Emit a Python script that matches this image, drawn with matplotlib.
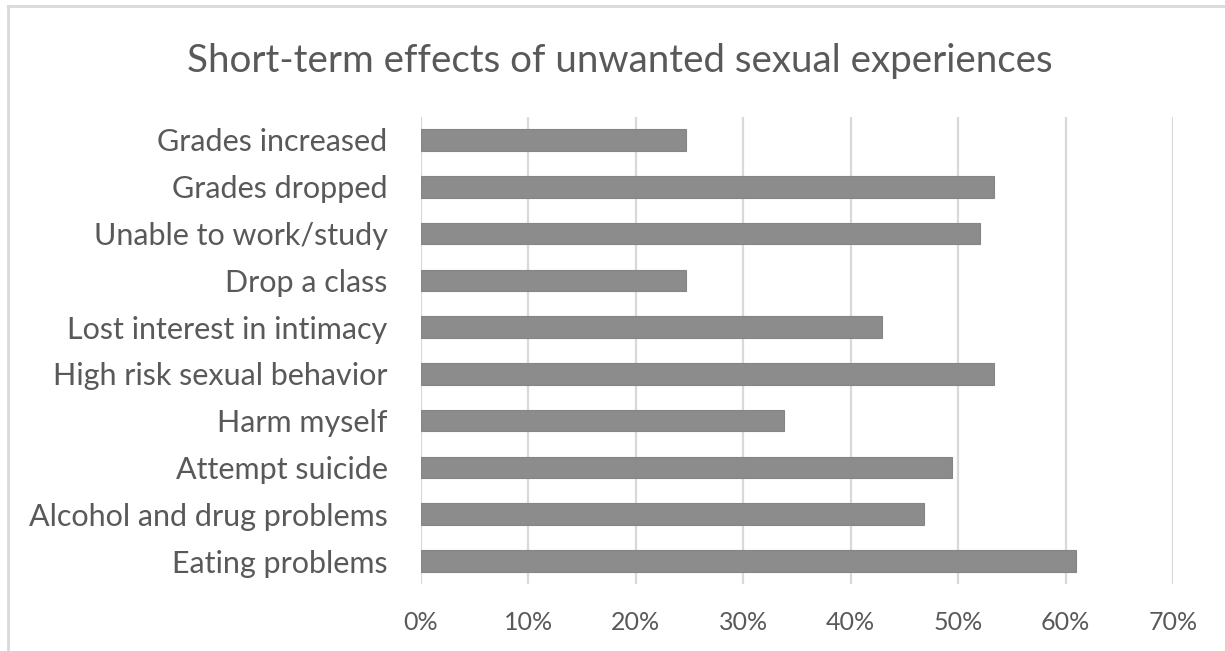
import numpy as np
import matplotlib
matplotlib.use("Agg")
import matplotlib.pyplot as plt
from matplotlib.lines import Line2D
from matplotlib.ticker import FuncFormatter

# short-term effects, share of respondents (%)
categories = [
    "Grades increased",
    "Grades dropped",
    "Unable to work/study",
    "Drop a class",
    "Lost interest in intimacy",
    "High risk sexual behavior",
    "Harm myself",
    "Attempt suicide",
    "Alcohol and drug problems",
    "Eating problems",
]
values = [24.7, 53.3, 52.0, 24.7, 42.9, 53.3, 33.8, 49.4, 46.8, 61.0]
x_ticks = [0, 10, 20, 30, 40, 50, 60, 70]

text_col = "#595959"
bar_col = "#8c8c8c"
grid_col = "#d9d9d9"

plt.rcParams["font.family"] = ["Lato", "DejaVu Sans"]

fig = plt.figure(figsize=(12.25, 6.51), dpi=100)
ax = fig.add_axes([0.3437, 0.1023, 0.6139, 0.7186])

y = np.arange(len(categories))
ax.barh(y, values, height=0.46, color=bar_col, edgecolor="#858585", linewidth=0.8, zorder=3)

ax.set_ylim(len(categories) - 0.5, -0.5)
ax.set_xlim(0, 70)
ax.set_xticks(x_ticks)
ax.xaxis.set_major_formatter(FuncFormatter(lambda v, p: f"{v:.0f}%"))
ax.set_yticks(y)
ax.set_yticklabels(categories)

ax.grid(axis="x", color=grid_col, linewidth=1.6, zorder=0)
ax.grid(axis="y", visible=False)
for s in ax.spines.values():
    s.set_visible(False)
ax.tick_params(axis="both", length=0, colors=text_col)
ax.tick_params(axis="y", labelsize=22, pad=24)
ax.tick_params(axis="x", labelsize=18, pad=19)

fig.text(0.506, 0.907, "Short-term effects of unwanted sexual experiences",
         ha="center", va="center", fontsize=27.7, color=text_col)

# chart frame (top and left edges)
fig.add_artist(Line2D([8 / 1225, 1], [1 - 6 / 651, 1 - 6 / 651], color=grid_col, linewidth=2,
                      transform=fig.transFigure))
fig.add_artist(Line2D([8 / 1225, 8 / 1225], [0, 1 - 6 / 651], color=grid_col, linewidth=2,
                      transform=fig.transFigure))

fig.savefig("out.png", dpi=100)
